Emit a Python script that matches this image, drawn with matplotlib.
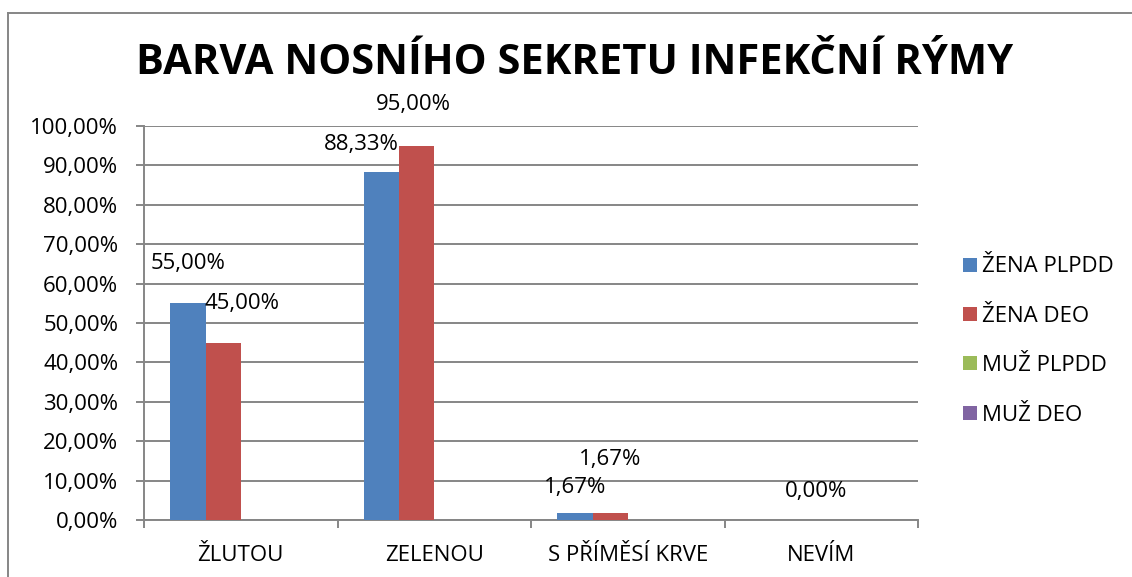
import matplotlib
matplotlib.use("Agg")
import matplotlib.pyplot as plt
from matplotlib.lines import Line2D
from matplotlib.ticker import FuncFormatter
import numpy as np

categories = ["ŽLUTOU", "ZELENOU", "S PŘÍMĚSÍ KRVE", "NEVÍM"]
series_names = ["ŽENA PLPDD", "ŽENA DEO", "MUŽ PLPDD", "MUŽ DEO"]
zena_plpdd = [55.00, 88.33, 1.67, 0.00]
zena_deo = [45.00, 95.00, 1.67, 0.00]
muz_plpdd = [0.0, 0.0, 0.0, 0.0]
muz_deo = [0.0, 0.0, 0.0, 0.0]
title = "BARVA NOSNÍHO SEKRETU INFEKČNÍ RÝMY"
yticks = [0, 10, 20, 30, 40, 50, 60, 70, 80, 90, 100]

# data labels: (series index, category index) -> offset in pixels (dx, dy)
label_offsets = {
    (0, 0): (0, 40),
    (1, 0): (19, 39),
    (0, 1): (-20, 27),
    (1, 1): (-3, 41),
    (0, 2): (0, 26),
    (1, 2): (0, 54),
    (1, 3): (12, 28),
}

colors = ["#4F81BD", "#C0504D", "#9BBB59", "#8064A2"]
FONT = ["Open Sans", "DejaVu Sans"]
plt.rcParams["font.family"] = FONT
FS = 16

W, H = 1132, 577
fig = plt.figure(figsize=(W / 100, H / 100), dpi=100)
ax = fig.add_axes([144 / W, 1 - 520 / H, (918 - 144) / W, (520 - 126) / H])

grid_c = "#868686"
data = [zena_plpdd, zena_deo, muz_plpdd, muz_deo]
x = np.arange(len(categories))
w = 1 / 5.5
for k, vals in enumerate(data):
    ax.bar(x + (k - 1.5) * w, vals, width=w, color=colors[k],
           label=series_names[k], zorder=3, linewidth=0)

for (s, c), (dx, dy) in label_offsets.items():
    v = data[s][c]
    ax.annotate(f"{v:.2f}".replace(".", ",") + "%",
                xy=(x[c] + (s - 1.5) * w, v), xytext=(dx, dy),
                textcoords="offset pixels", ha="center", va="center",
                fontsize=FS, color="black", zorder=5, annotation_clip=False)

ax.set_xlim(-0.5, len(categories) - 0.5)
ax.set_ylim(0, 100)
ax.set_yticks(yticks)
ax.yaxis.set_major_formatter(FuncFormatter(lambda v, p: f"{v:.2f}".replace(".", ",") + "%"))
ax.grid(axis="y", color=grid_c, linewidth=1.4, zorder=0)
ax.set_axisbelow(True)

ax.set_xticks(x)
ax.set_xticklabels(categories)
ax.set_xticks(np.arange(len(categories) + 1) - 0.5, minor=True)
ax.tick_params(axis="x", which="major", length=0, pad=18, labelsize=FS)
ax.tick_params(axis="x", which="minor", length=5.5, width=1.4, color=grid_c)
ax.tick_params(axis="y", which="major", length=5.5, width=1.4, color=grid_c,
               pad=13, labelsize=FS)

for sp in ["top", "right"]:
    ax.spines[sp].set_visible(False)
for sp in ["left", "bottom"]:
    ax.spines[sp].set_color(grid_c)
    ax.spines[sp].set_linewidth(1.4)

fig.text(575 / W, 1 - 64 / H, title, ha="center", va="center",
         fontsize=30, fontweight="bold", family=["Open Sans", "DejaVu Sans"])

handles = [Line2D([0], [0], marker="s", linestyle="none", markersize=10,
                  markerfacecolor=colors[k], markeredgewidth=0) for k in range(4)]
fig.legend(handles, series_names, loc="center left",
           bbox_to_anchor=(952 / W, 1 - 341 / H), frameon=False,
           fontsize=FS, handlelength=0.8, handletextpad=0.15,
           labelspacing=1.28, borderaxespad=0)

# outer chart frame
fig.add_artist(Line2D([8 / W, 8 / W], [0, 1 - 13 / H], transform=fig.transFigure,
                      color="#868686", linewidth=1.4))
fig.add_artist(Line2D([8 / W, 1131 / W], [1 - 13 / H, 1 - 13 / H],
                      transform=fig.transFigure, color="#868686", linewidth=1.4))

fig.savefig("out.png", dpi=100)
